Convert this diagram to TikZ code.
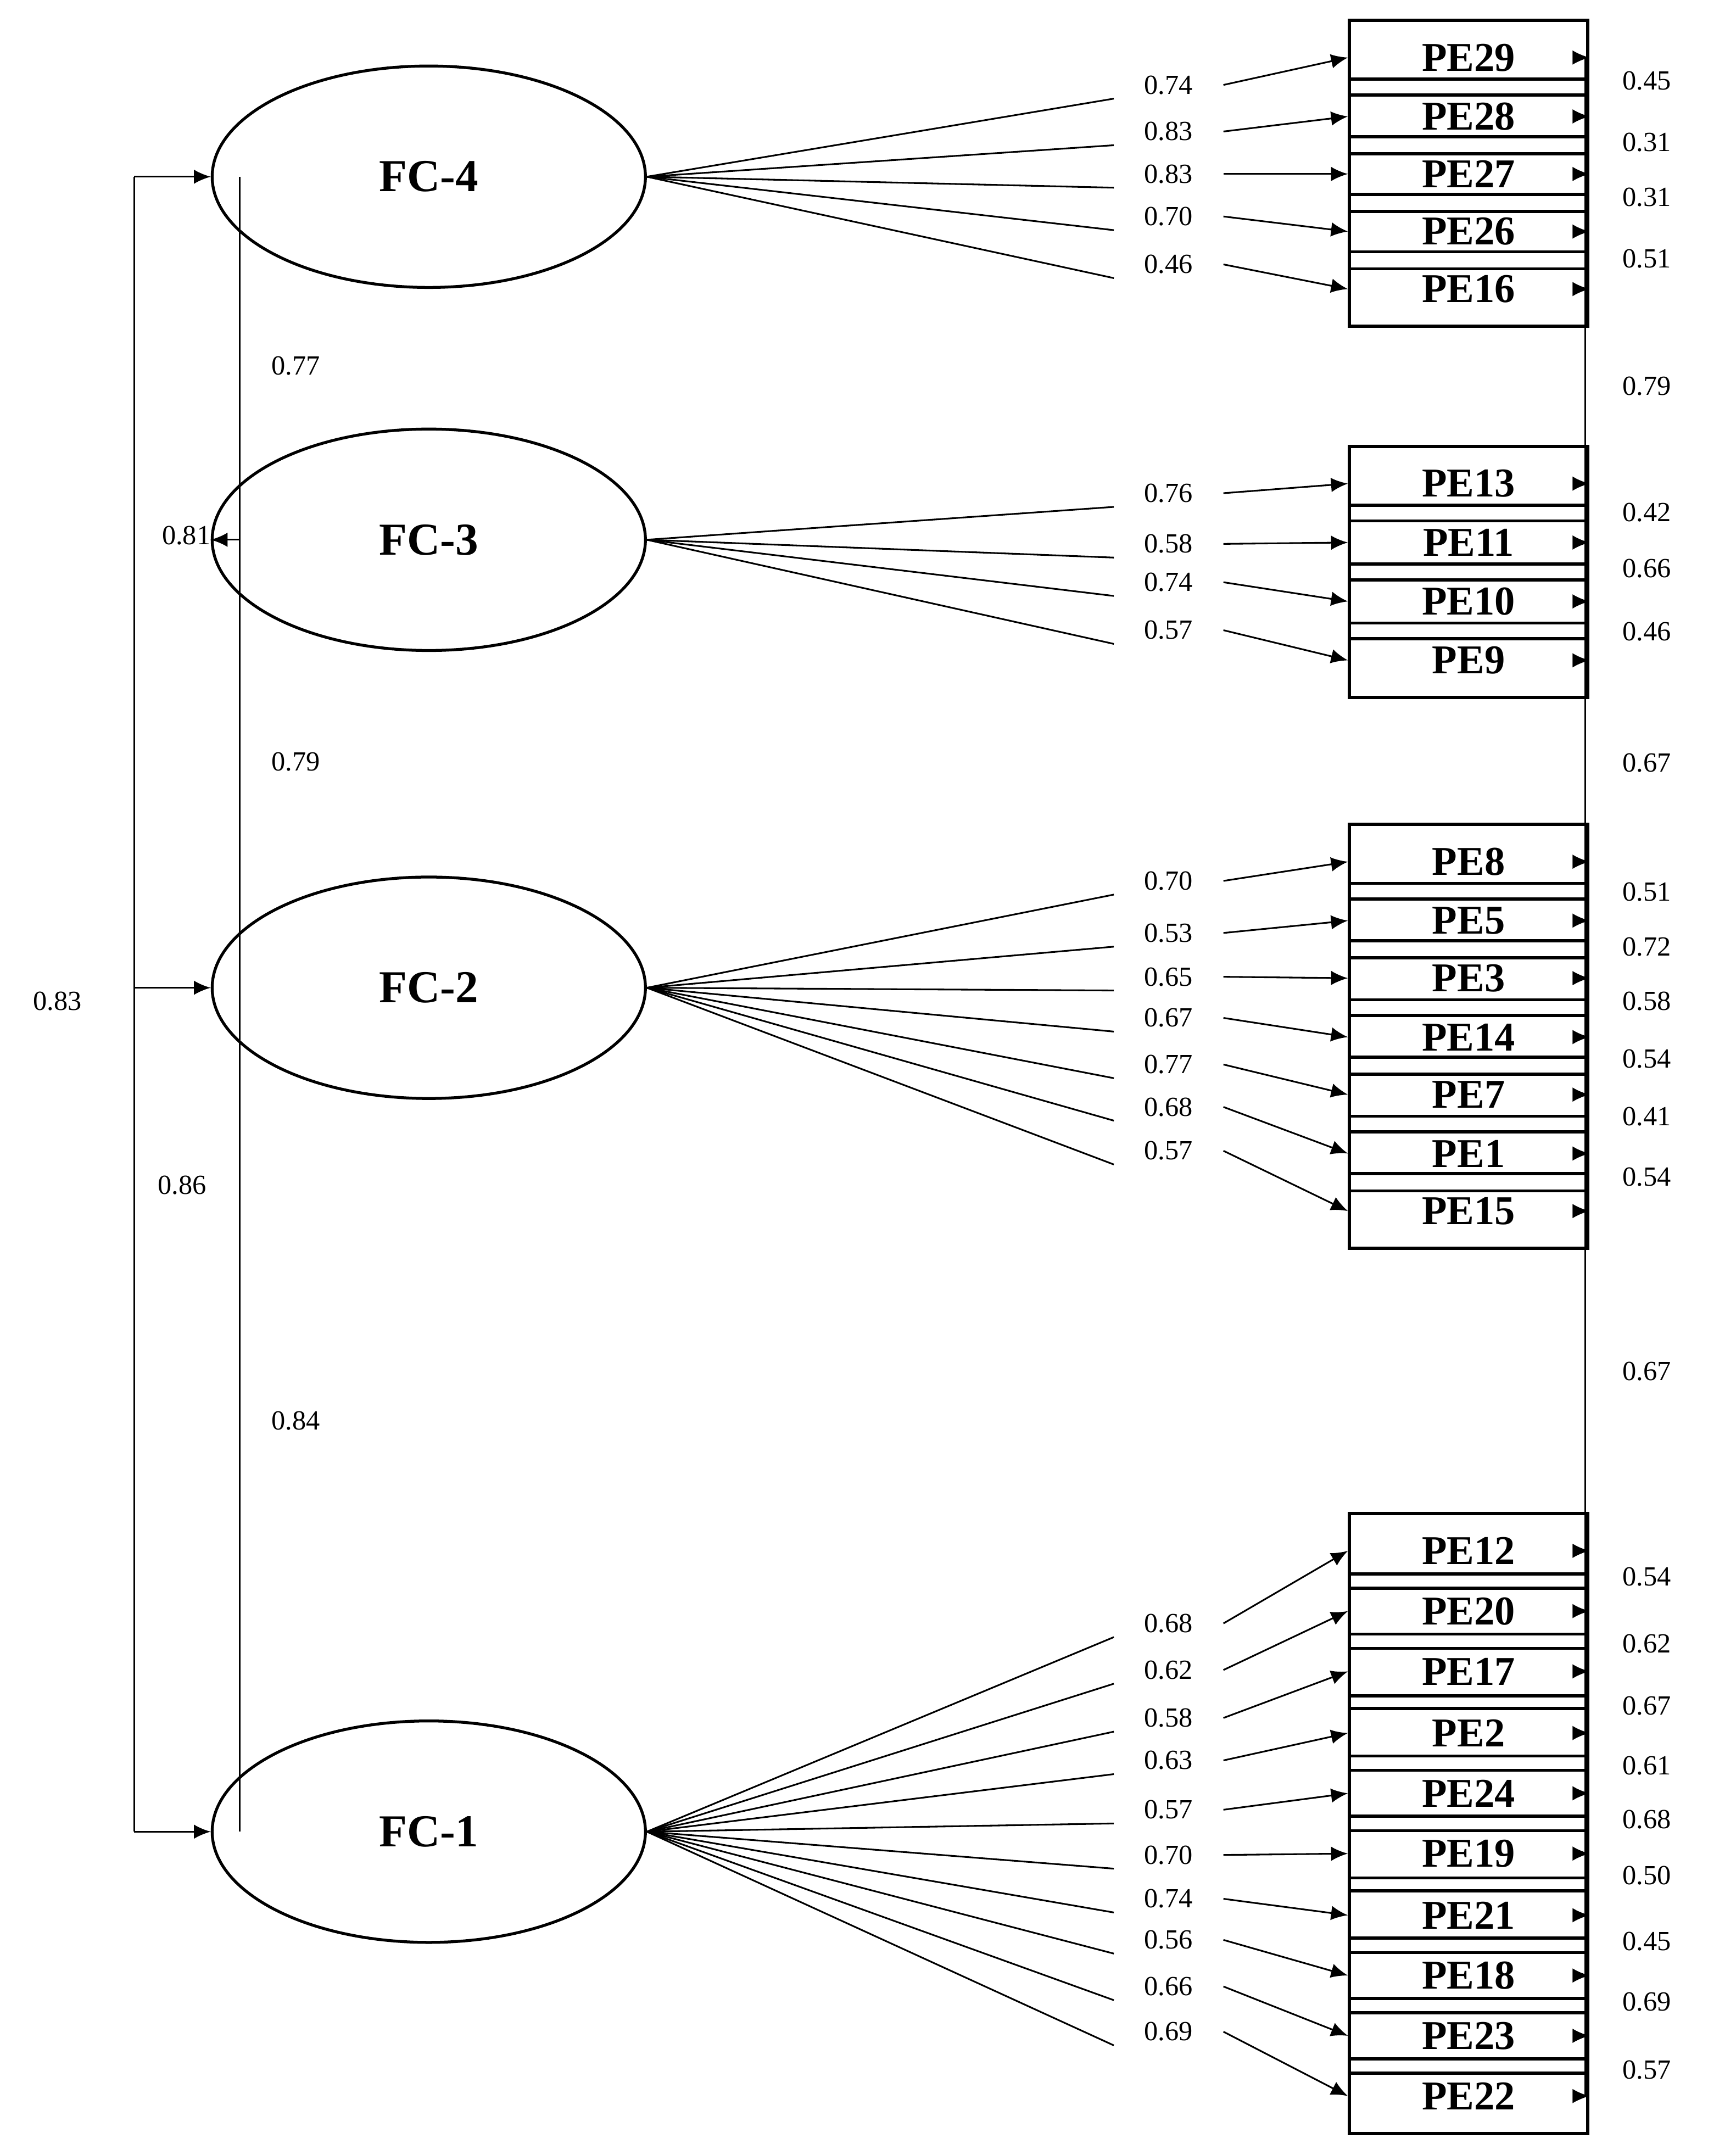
\documentclass[tikz,border=0pt]{standalone}
\usepackage{fontspec}
\setmainfont{Liberation Serif}
\usetikzlibrary{arrows.meta,shapes.geometric}
\begin{document}
\begin{tikzpicture}[x=0.02cm,y=-0.02cm,
  lat/.style={draw,line width=1.2pt,ellipse,minimum width=180,minimum height=92,font=\fontsize{19}{19}\selectfont\bfseries,inner sep=0},
  ind/.style={draw,line width=1.3pt,minimum width=99,minimum height=31,inner sep=0,font=\fontsize{17}{17}\selectfont\bfseries},
  num/.style={font=\fontsize{11.5}{12}\selectfont,inner sep=1pt},
  arr/.style={-{Latex[length=7pt,width=6pt]},line width=0.7pt},
  ln/.style={line width=0.7pt}]
\useasboundingbox (0,0) rectangle (1267,1565);
\node[lat] (FC4) at (313,129) {FC-4};
\node[lat] (FC3) at (313,394) {FC-3};
\node[lat] (FC2) at (313,721) {FC-2};
\node[lat] (FC1) at (313,1337) {FC-1};
\foreach \f/\lst in {FC4/{29/42/0.74/62/0.45/59,28/85/0.83/96/0.31/104,27/127/0.83/127/0.31/144,26/169/0.70/158/0.51/189,16/211/0.46/193//0},
  FC3/{13/353/0.76/360/0.42/374,11/396/0.58/397/0.66/415,10/439/0.74/425/0.46/461,9/482/0.57/460//0},
  FC2/{8/629/0.70/643/0.51/651,5/672/0.53/681/0.72/691,3/714/0.65/713/0.58/731,14/757/0.67/743/0.54/773,7/799/0.77/777/0.41/815,1/842/0.68/808/0.54/859,15/884/0.57/840//0},
  FC1/{12/1132/0.68/1185/0.54/1151,20/1176/0.62/1219/0.62/1200,17/1220/0.58/1254/0.67/1245,2/1265/0.63/1285/0.61/1289,24/1309/0.57/1321/0.68/1328,19/1353/0.70/1354/0.50/1369,21/1398/0.74/1386/0.45/1417,18/1442/0.56/1416/0.69/1461,23/1486/0.66/1450/0.57/1511,22/1530/0.69/1483//0}}{
  \foreach \b/\by/\l/\ly/\e/\ey in \lst {
    \node[ind] (PE\b) at (1072,\by) {PE\b};
    \node[num] (L\b) at (853,\ly) {\l};
    \coordinate (A\b) at (813,\ly+10);
    \coordinate (B\b) at (893,\ly);
    \draw[ln] (\f.east) -- (A\b);
    \draw[arr] (B\b) -- (PE\b.west);
    \coordinate (R\b) at (1157,\by);
    \draw[arr] (R\b) -- (PE\b.east);
    \ifx\e\empty\else\node[num] (E\b) at (1202,\ey) {\e};\fi
  }
}
\draw[ln] (1157,42) -- (1157,1530);
\node[num] (C1) at (1202,282) {0.79};
\node[num] (C2) at (1202,557) {0.67};
\node[num] (C3) at (1202,1001) {0.67};
\coordinate (O4) at (98,129); \coordinate (O2) at (98,721); \coordinate (O1) at (98,1337);
\coordinate (I4) at (175,129); \coordinate (I3) at (175,394); \coordinate (I1) at (175,1337);
\draw[ln] (O4) -- (O1);
\draw[ln] (I4) -- (I1);
\draw[arr] (O4) -- (FC4.west);
\draw[arr] (I3) -- (FC3.west);
\draw[arr] (O2) -- (FC2.west);
\draw[arr] (O1) -- (FC1.west);
\node[num] (K1) at (216,267) {0.77};
\node[num] (K2) at (136,391) {0.81};
\node[num] (K3) at (216,556) {0.79};
\node[num] (K4) at (42,731) {0.83};
\node[num] (K5) at (133,865) {0.86};
\node[num] (K6) at (216,1037) {0.84};
\end{tikzpicture}
\end{document}
